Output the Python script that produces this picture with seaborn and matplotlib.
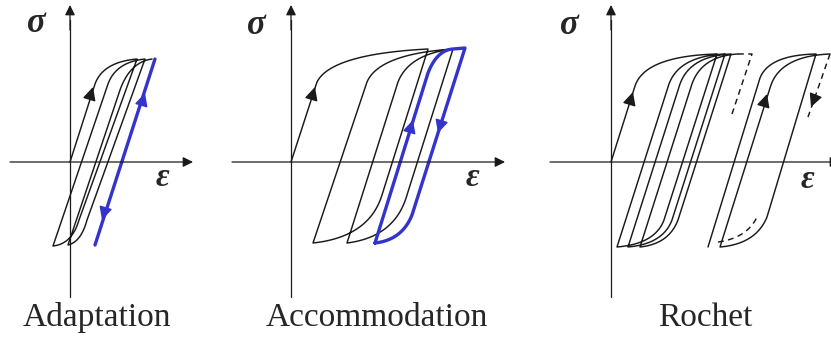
import numpy as np
import matplotlib
matplotlib.use("Agg")
import matplotlib.pyplot as plt
import seaborn as sns

sns.set_theme(style="white")
plt.rcParams['font.family'] = ['Liberation Serif', 'DejaVu Serif']

# stress-strain paths (strain right, stress up, origin at axis cross)
# codes: M = move, L = straight line, Q Q = curved corner (control point, end point)
adapt_eps = [0, 25, 33, 67, 9, 2, -17, 38, 46, 75, 17, 11, -2, 50, 60, 82]
adapt_sig = [0, 78, 100, 103, -58, -82, -84, 78, 100, 103, -58, -80, -83, 72, 100, 103]
adapt_code = "MLQQLQQLQQLQQLQQ"
adapt_blue_eps = [85, 25]
adapt_blue_sig = [103, -83]
adapt_blue_code = "ML"

accom_eps = [0, 26, 40, 137, 91, 78, 22, 76, 88, 162, 116, 104, 56, 107, 118, 162]
accom_sig = [0, 80, 108, 113, -33, -75, -81, 80, 108, 113, -33, -75, -81, 80, 108, 113]
accom_code = "MLQQLQQLQQLQQLQQ"
accom_blue_eps = [84, 137, 146, 162, 174, 121, 111, 84]
accom_blue_sig = [-81, 89, 112, 113, 114, -53, -78, -81]
accom_blue_code = "MLQQLLQQ"

rochet_eps = [0, 24, 34, 106, 53, 44, 6, 57, 66, 114, 61, 52, 17, 68, 77, 120,
              67, 58, 29, 80, 89, 127]
rochet_sig = [0, 76, 106, 108, -58, -82, -85, 75, 106, 108, -58, -82, -85, 75, 106, 108,
              -58, -82, -85, 75, 106, 108]
rochet_code = "MLQQLQQLQQLQQLQQLQQLQQ"
rochet2_eps = [97, 149, 158, 205, 156, 145, 109, 159, 168, 219]
rochet2_sig = [-85, 84, 107, 108, -55, -82, -85, 74, 106, 108]
rochet2_code = "MLQQLQQLQQ"
rochet_dash1_eps = [127, 141, 120]
rochet_dash1_sig = [108, 108, 45]
rochet_dash1_code = "MLL"
rochet_dash2_eps = [219, 197]
rochet_dash2_sig = [108, 45]
rochet_dash2_code = "ML"
rochet_dash3_eps = [107, 136, 146]
rochet_dash3_sig = [-80, -76, -55]
rochet_dash3_code = "MQQ"

# direction arrows on the paths: tip and tail (strain, stress)
adapt_arrows = [((23, 75), (20, 65), 'k'), ((75, 69), (72, 59), 'b'), ((32, -58), (35, -48), 'b')]
accom_arrows = [((24, 75), (21, 65), 'k'), ((122, 42), (119, 32), 'b'), ((147, 29), (150, 39), 'b')]
rochet_arrows = [((22, 70), (19, 60), 'k'), ((156, 68), (153, 58), 'k'), ((200, 55), (204, 65), 'k')]

titles = ["Adaptation", "Accommodation", "Rochet"]

BLUE = "#3434cc"
origins = [(70, 162), (291, 162), (611, 162)]
h_axis = [(-60, 123), (-59, 214), (-61, 229)]
title_x = [97, 377, 705]
sigma_pos = [(36, 24), (256, 25), (569, 25)]
eps_pos = [(162, 177), (472, 178), (807, 180)]


def trace(eps, sig, codes, n=24):
    xs, ys = [], []
    i = 0
    while i < len(codes):
        if codes[i] in "ML":
            xs.append(eps[i])
            ys.append(sig[i])
            i += 1
        else:
            p0 = np.array([xs[-1], ys[-1]], dtype=float)
            p1 = np.array([eps[i], sig[i]], dtype=float)
            p2 = np.array([eps[i + 1], sig[i + 1]], dtype=float)
            t = np.linspace(0, 1, n)[1:, None]
            pts = (1 - t) ** 2 * p0 + 2 * (1 - t) * t * p1 + t ** 2 * p2
            xs.extend(pts[:, 0])
            ys.extend(pts[:, 1])
            i += 2
    return np.array(xs), np.array(ys)


def draw_path(ax, org, eps, sig, codes, color="k", lw=1.05, ls="-"):
    e, s = trace(eps, sig, codes)
    sns.lineplot(x=org[0] + e, y=org[1] - s, sort=False, estimator=None,
                 color=color, lw=lw, linestyle=ls, ax=ax)


def draw_arrows(ax, org, arrows):
    for tip, tail, c in arrows:
        col = BLUE if c == 'b' else 'k'
        ax.annotate("", xy=(org[0] + tip[0], org[1] - tip[1]),
                    xytext=(org[0] + tail[0], org[1] - tail[1]),
                    arrowprops=dict(arrowstyle="-|>", color=col, lw=1.0,
                                    mutation_scale=20, shrinkA=0, shrinkB=0))


fig = plt.figure(figsize=(8.31, 3.41), dpi=100)
ax = fig.add_axes([0, 0, 1, 1])
ax.set_xlim(0, 831)
ax.set_ylim(341, 0)
ax.axis("off")

# coordinate axes
for k, org in enumerate(origins):
    x0, y0 = org
    ax.plot([x0, x0], [297, 20], color="k", lw=0.9)
    ax.annotate("", xy=(x0, 5), xytext=(x0, 30),
                arrowprops=dict(arrowstyle="-|>", color="k", lw=0.9,
                                mutation_scale=15, shrinkA=0, shrinkB=0))
    left, right = h_axis[k]
    ax.annotate("", xy=(x0 + right, y0), xytext=(x0 + left, y0),
                arrowprops=dict(arrowstyle="-|>", color="k", lw=0.9,
                                mutation_scale=15, shrinkA=0, shrinkB=0),
                annotation_clip=False)
    ax.text(*sigma_pos[k], "σ", fontsize=25, fontweight="bold", fontstyle="italic",
            ha="center", va="center")
    ax.text(*eps_pos[k], "ε", fontsize=24, fontweight="bold", fontstyle="italic",
            ha="center", va="center")
    ax.text(title_x[k], 326, titles[k], fontsize=24, ha="center", va="baseline")

# Adaptation
o = origins[0]
draw_path(ax, o, adapt_eps, adapt_sig, adapt_code)
draw_path(ax, o, adapt_blue_eps, adapt_blue_sig, adapt_blue_code, color=BLUE, lw=2.4)
draw_arrows(ax, o, adapt_arrows)

# Accommodation
o = origins[1]
draw_path(ax, o, accom_eps, accom_sig, accom_code)
draw_path(ax, o, accom_blue_eps, accom_blue_sig, accom_blue_code, color=BLUE, lw=2.4)
draw_arrows(ax, o, accom_arrows)

# Rochet
o = origins[2]
draw_path(ax, o, rochet_eps, rochet_sig, rochet_code)
draw_path(ax, o, rochet2_eps, rochet2_sig, rochet2_code)
for e, s, c in [(rochet_dash1_eps, rochet_dash1_sig, rochet_dash1_code),
                (rochet_dash2_eps, rochet_dash2_sig, rochet_dash2_code),
                (rochet_dash3_eps, rochet_dash3_sig, rochet_dash3_code)]:
    draw_path(ax, o, e, s, c, ls=(0, (4, 3)))
draw_arrows(ax, o, rochet_arrows)

fig.savefig("out.png", dpi=100)
plt.close(fig)
